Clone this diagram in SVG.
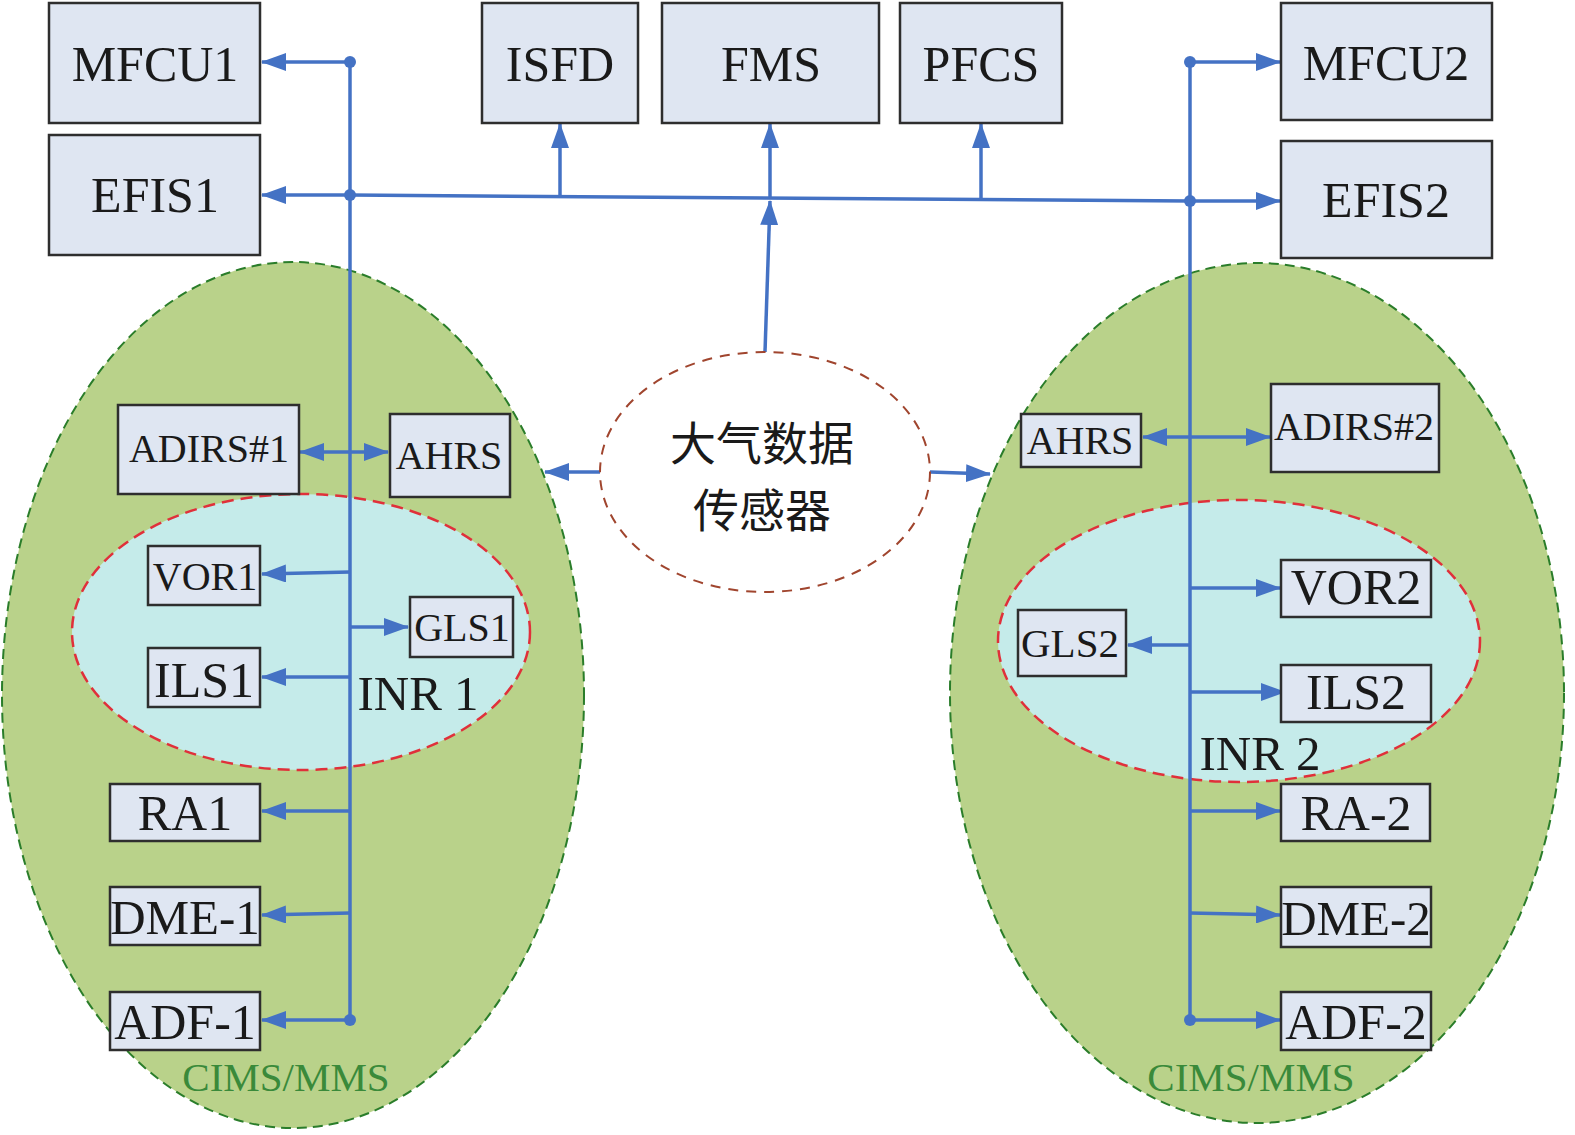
<svg xmlns="http://www.w3.org/2000/svg" width="1575" height="1135" viewBox="0 0 1575 1135">
<style>
.box{fill:#dfe6f2;stroke:#2e2e2e;stroke-width:2.5}
.t{font-family:"Liberation Serif","Times New Roman",serif;fill:#1a1a1a;text-anchor:middle}
.cjk{font-family:"Noto Sans CJK SC","Liberation Serif",serif;fill:#1a1a1a;text-anchor:middle}
.ln{stroke:#4472c4;stroke-width:3.5;fill:none}
.arr{marker-end:url(#ah)}
.dbl{marker-start:url(#ah);marker-end:url(#ah)}
.dot{fill:#4472c4}
.grn{fill:#b9d28a;stroke:#2a7d2a;stroke-width:2;stroke-dasharray:10 6}
.cy{fill:#c5ebea;stroke:#e0303a;stroke-width:2.5;stroke-dasharray:12 7}
.lab{font-family:"Liberation Serif","Times New Roman",serif;fill:#3a8a3a;text-anchor:middle;font-size:41px}
</style>
<defs>
<marker id="ah" viewBox="0 0 25 18" refX="24" refY="9" markerWidth="25" markerHeight="18" markerUnits="userSpaceOnUse" orient="auto-start-reverse">
<path d="M0,0 L25,9 L0,18 z" fill="#4472c4"/>
</marker>
</defs>
<rect width="1575" height="1135" fill="#ffffff"/>

<g id="cims1">
<ellipse class="grn" cx="293" cy="695" rx="291" ry="433"/>
<ellipse class="cy" cx="301" cy="632" rx="229" ry="138"/>
<text class="t" x="418" y="710" font-size="49">INR 1</text>
<text class="lab" x="286" y="1091">CIMS/MMS</text>
</g>
<g id="cims2">
<ellipse class="grn" cx="1257" cy="693" rx="307" ry="430"/>
<ellipse class="cy" cx="1239" cy="641" rx="241" ry="141"/>
<text class="t" x="1260" y="770" font-size="49">INR 2</text>
<text class="lab" x="1251" y="1091">CIMS/MMS</text>
</g>

<g id="connectors">
<path class="ln" d="M350,62 V1020"/>
<path class="ln arr" d="M350,62 H262"/>
<path class="ln arr" d="M350,195 H262"/>
<path class="ln" d="M350,195 L1190,201"/>
<path class="ln arr" d="M560,197 V124"/>
<path class="ln arr" d="M770,198 V124"/>
<path class="ln arr" d="M981,199 V124"/>
<path class="ln" d="M1190,62 V1020"/>
<path class="ln arr" d="M1190,62 H1280"/>
<path class="ln arr" d="M1190,201 H1280"/>
<path class="ln arr" d="M765,352 L770,201"/>
<path class="ln arr" d="M600,472 H545"/>
<path class="ln arr" d="M930,472 L990,474"/>
<path class="ln dbl" d="M300,452 H388"/>
<path class="ln arr" d="M350,572 L262,574"/>
<path class="ln arr" d="M350,627 H408"/>
<path class="ln arr" d="M350,677 H262"/>
<path class="ln arr" d="M350,811 H262"/>
<path class="ln arr" d="M350,913 L262,915"/>
<path class="ln arr" d="M350,1020 H262"/>
<path class="ln dbl" d="M1143,437 H1270"/>
<path class="ln arr" d="M1190,588 H1280"/>
<path class="ln arr" d="M1190,645 H1128"/>
<path class="ln arr" d="M1190,692 H1285"/>
<path class="ln arr" d="M1190,811 H1280"/>
<path class="ln arr" d="M1190,913 L1280,915"/>
<path class="ln arr" d="M1190,1020 H1280"/>
<circle class="dot" cx="350" cy="62" r="6"/>
<circle class="dot" cx="350" cy="195" r="6"/>
<circle class="dot" cx="350" cy="1020" r="6"/>
<circle class="dot" cx="1190" cy="62" r="6"/>
<circle class="dot" cx="1190" cy="201" r="6"/>
<circle class="dot" cx="1190" cy="1020" r="6"/>
</g>

<g id="adsensor">
<ellipse cx="765" cy="472" rx="165" ry="120" fill="#ffffff" stroke="#a0452e" stroke-width="2" stroke-dasharray="10 8"/>
<text class="cjk" x="762" y="460" font-size="46">大气数据</text>
<text class="cjk" x="762" y="527" font-size="46">传感器</text>
</g>

<g id="mfcu1"><rect class="box" x="49" y="3" width="211" height="120"/><text class="t" x="155" y="81" font-size="50">MFCU1</text></g>
<g id="efis1"><rect class="box" x="49" y="135" width="211" height="120"/><text class="t" x="155" y="212" font-size="50">EFIS1</text></g>
<g id="isfd"><rect class="box" x="482" y="3" width="156" height="120"/><text class="t" x="560" y="81" font-size="50">ISFD</text></g>
<g id="fms"><rect class="box" x="662" y="3" width="217" height="120"/><text class="t" x="771" y="81" font-size="50">FMS</text></g>
<g id="pfcs"><rect class="box" x="900" y="3" width="162" height="120"/><text class="t" x="981" y="81" font-size="50">PFCS</text></g>
<g id="mfcu2"><rect class="box" x="1281" y="3" width="211" height="117"/><text class="t" x="1386" y="80" font-size="50">MFCU2</text></g>
<g id="efis2"><rect class="box" x="1281" y="141" width="211" height="117"/><text class="t" x="1386" y="217" font-size="50">EFIS2</text></g>

<g id="adirs1"><rect class="box" x="118" y="405" width="181" height="89"/><text class="t" x="209" y="462" font-size="40">ADIRS#1</text></g>
<g id="ahrs1"><rect class="box" x="390" y="414" width="120" height="83"/><text class="t" x="449" y="469" font-size="40">AHRS</text></g>
<g id="vor1"><rect class="box" x="148" y="546" width="112" height="59"/><text class="t" x="205" y="590" font-size="40">VOR1</text></g>
<g id="gls1"><rect class="box" x="410" y="597" width="103" height="60"/><text class="t" x="462" y="641" font-size="40">GLS1</text></g>
<g id="ils1"><rect class="box" x="148" y="648" width="112" height="59"/><text class="t" x="204" y="697" font-size="50">ILS1</text></g>
<g id="ra1"><rect class="box" x="110" y="784" width="150" height="57"/><text class="t" x="185" y="830" font-size="50">RA1</text></g>
<g id="dme1"><rect class="box" x="110" y="887" width="150" height="58"/><text class="t" x="185" y="934" font-size="49">DME-1</text></g>
<g id="adf1"><rect class="box" x="110" y="992" width="150" height="58"/><text class="t" x="185" y="1039" font-size="50">ADF-1</text></g>

<g id="ahrs2"><rect class="box" x="1021" y="414" width="120" height="53"/><text class="t" x="1080" y="454" font-size="40">AHRS</text></g>
<g id="adirs2"><rect class="box" x="1271" y="384" width="168" height="88"/><text class="t" x="1354" y="440" font-size="40">ADIRS#2</text></g>
<g id="vor2"><rect class="box" x="1281" y="560" width="150" height="57"/><text class="t" x="1356" y="604" font-size="50">VOR2</text></g>
<g id="gls2"><rect class="box" x="1018" y="610" width="108" height="66"/><text class="t" x="1070" y="657" font-size="41">GLS2</text></g>
<g id="ils2"><rect class="box" x="1281" y="665" width="150" height="57"/><text class="t" x="1356" y="709" font-size="50">ILS2</text></g>
<g id="ra2"><rect class="box" x="1281" y="784" width="149" height="57"/><text class="t" x="1356" y="830" font-size="50">RA-2</text></g>
<g id="dme2"><rect class="box" x="1281" y="887" width="150" height="60"/><text class="t" x="1356" y="935" font-size="49">DME-2</text></g>
<g id="adf2"><rect class="box" x="1281" y="992" width="150" height="58"/><text class="t" x="1356" y="1039" font-size="50">ADF-2</text></g>
</svg>
